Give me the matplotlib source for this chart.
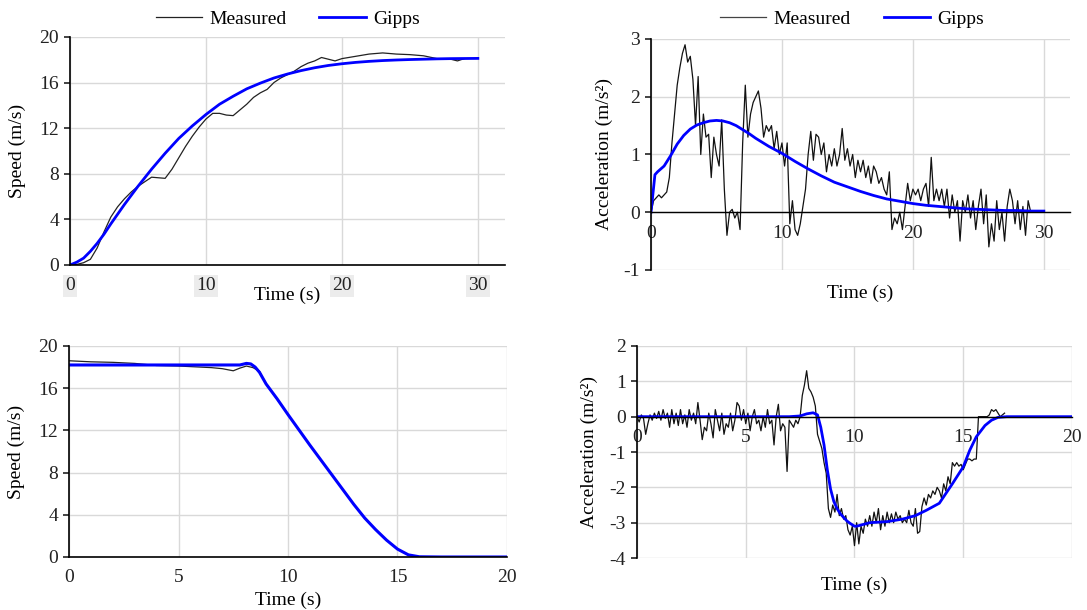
import numpy as np
import matplotlib
matplotlib.use('Agg')
import matplotlib.pyplot as plt

plt.rcParams['font.family'] = ['Liberation Serif', 'DejaVu Serif']
plt.rcParams['axes.unicode_minus'] = False
fs = 14

# ---- acceleration run: speed (top left) ----
spd_t_meas = [0, 0.5, 1, 1.5, 2, 2.5, 3, 3.5, 4, 4.5, 5, 5.5, 6, 6.5, 7, 7.5, 8, 8.5,
              9, 9.5, 10, 10.5, 11, 11.5, 12, 12.5, 13, 13.5, 14, 14.5, 15, 15.5, 16,
              16.5, 17, 17.5, 18, 18.5, 19, 19.5, 20, 21, 22, 23, 24, 25, 26, 27, 28,
              28.5, 29]
spd_meas = [0, 0.05, 0.2, 0.5, 1.5, 2.9, 4.2, 5.1, 5.8, 6.4, 6.9, 7.3, 7.7, 7.65, 7.6,
            8.4, 9.4, 10.4, 11.3, 12.1, 12.8, 13.3, 13.3, 13.15, 13.1, 13.6, 14.1, 14.7,
            15.1, 15.4, 16.0, 16.4, 16.7, 17.0, 17.4, 17.7, 17.9, 18.2, 18.05, 17.9, 18.1,
            18.3, 18.5, 18.6, 18.5, 18.45, 18.35, 18.1, 18.05, 17.9, 18.1]
spd_t_gipps = [0, 0.5, 1, 1.5, 2, 2.5, 3, 3.5, 4, 4.5, 5, 5.5, 6, 6.5, 7, 7.5, 8, 8.5,
               9, 9.5, 10, 11, 12, 13, 14, 15, 16, 17, 18, 19, 20, 21, 22, 23, 24, 25,
               26, 27, 28, 29, 30]
spd_gipps = [0, 0.25, 0.6, 1.2, 1.9, 2.7, 3.6, 4.45, 5.3, 6.1, 6.9, 7.65, 8.4, 9.1, 9.8,
             10.45, 11.1, 11.65, 12.2, 12.7, 13.2, 14.1, 14.8, 15.45, 15.95, 16.4, 16.75,
             17.05, 17.3, 17.5, 17.65, 17.77, 17.86, 17.93, 17.98, 18.02, 18.05, 18.08,
             18.1, 18.11, 18.12]

# ---- acceleration run: acceleration (top right), measured every 0.2 s ----
acc_t_meas = np.round(np.arange(0, 29.01, 0.2), 1)
acc_meas = [
    0.0, 0.2, 0.25, 0.3, 0.25, 0.3, 0.35, 0.6, 1.2, 1.7,
    2.2, 2.5, 2.75, 2.9, 2.6, 2.7, 2.3, 1.5, 2.35, 1.0,
    1.7, 1.3, 1.35, 0.6, 1.3, 1.0, 0.8, 1.6, 0.4, -0.4,
    0.0, 0.05, -0.1, 0.0, -0.3, 1.2, 2.2, 1.3, 1.7, 1.9,
    2.0, 2.1, 1.8, 1.3, 1.5, 1.4, 1.5, 1.1, 1.4, 1.0,
    1.2, 0.8, 1.2, -0.2, 0.2, -0.3, -0.4, -0.2, 0.1, 0.4,
    1.0, 1.4, 0.9, 1.35, 1.3, 1.0, 1.2, 0.7, 1.0, 0.8,
    1.1, 0.8, 1.0, 1.45, 0.9, 1.1, 0.8, 1.0, 0.6, 0.9,
    0.7, 0.9, 0.6, 0.8, 0.5, 0.8, 0.7, 0.5, 0.6, 0.4,
    0.3, 0.7, -0.3, -0.1, -0.2, 0.0, -0.3, 0.1, 0.5, 0.2,
    0.4, 0.3, 0.4, 0.2, 0.4, 0.5, 0.1, 0.95, 0.2, 0.4,
    0.2, 0.4, 0.1, 0.4, -0.1, 0.3, 0.0, 0.2, -0.5, 0.2,
    0.0, 0.3, -0.1, 0.2, -0.3, 0.1, 0.4, -0.2, 0.3, -0.6,
    -0.2, -0.5, 0.2, -0.3, 0.0, -0.5, 0.1, 0.4, 0.2, -0.2,
    0.2, -0.3, 0.1, -0.4, 0.2, 0.0]
acc_t_gipps = [0, 0.3, 0.5, 1, 1.5, 2, 2.5, 3, 3.5, 4, 4.5, 5, 5.5, 6, 6.5, 7, 7.5, 8,
               8.5, 9, 9.5, 10, 11, 12, 13, 14, 15, 16, 17, 18, 19, 20, 21, 22, 23, 24,
               25, 26, 27, 28, 29, 30]
acc_gipps = [0, 0.65, 0.7, 0.8, 0.98, 1.18, 1.33, 1.44, 1.51, 1.55, 1.58, 1.59, 1.58,
             1.55, 1.5, 1.43, 1.36, 1.28, 1.21, 1.14, 1.08, 1.02, 0.88, 0.75, 0.63, 0.52,
             0.44, 0.36, 0.29, 0.23, 0.19, 0.15, 0.12, 0.1, 0.08, 0.06, 0.05, 0.04, 0.03,
             0.03, 0.02, 0.02]

# ---- deceleration run: speed (bottom left) ----
dspd_t_meas = [0, 1, 2, 3, 4, 5, 6, 6.5, 7, 7.5, 7.8, 8.1, 8.4, 8.7, 9, 10, 11, 12, 13,
               13.5, 14, 14.5, 15, 15.5, 16, 17]
dspd_meas = [18.6, 18.5, 18.45, 18.35, 18.15, 18.1, 18.0, 17.95, 17.85, 17.65, 17.9,
             18.1, 17.95, 17.6, 16.4, 13.5, 10.6, 7.8, 5.0, 3.7, 2.6, 1.6, 0.75, 0.2,
             0.02, 0.0]
dspd_t_gipps = [0, 7.8, 8.1, 8.3, 8.5, 8.7, 9, 9.5, 10, 11, 12, 13, 13.5, 14, 14.5, 15,
                15.5, 16, 17, 20]
dspd_gipps = [18.2, 18.2, 18.35, 18.3, 18.0, 17.5, 16.4, 15.0, 13.5, 10.6, 7.8, 5.0,
              3.7, 2.6, 1.6, 0.75, 0.2, 0.02, 0.0, 0.0]

# ---- deceleration run: acceleration (bottom right), measured every 0.1 s ----
dacc_t_meas = np.round(np.arange(0, 16.91, 0.1), 1)
dacc_meas = [
    0.0, -0.15, 0.05, -0.05, -0.5, -0.2, 0.05, -0.1, 0.1, -0.05,
    0.15, -0.1, 0.2, -0.05, 0.1, -0.3, 0.2, -0.2, 0.1, -0.25,
    0.2, -0.2, 0.05, -0.3, 0.2, -0.1, 0.1, -0.2, 0.4, -0.1,
    -0.65, -0.3, -0.4, 0.1, -0.2, -0.6, 0.2, -0.1, -0.4, 0.1,
    -0.5, -0.2, -0.3, 0.1, -0.4, -0.1, 0.4, 0.3, -0.1, 0.2,
    -0.2, 0.1, -0.4, 0.0, 0.2, -0.2, -0.1, -0.4, 0.0, -0.3,
    0.2, -0.2, -0.1, -0.8, 0.0, 0.35, -0.4, -0.2, -0.3, -1.55,
    -0.1, -0.2, -0.3, -0.1, -0.2, 0.0, 0.6, 0.9, 1.3, 0.8,
    0.7, 0.55, 0.3, -0.5, -0.7, -0.9, -1.3, -1.6, -2.6, -2.85,
    -2.5, -2.7, -2.2, -2.8, -2.6, -2.9, -2.8, -3.2, -3.35, -3.1,
    -3.65, -3.0, -3.6, -3.1, -3.3, -2.9, -3.1, -2.8, -3.1, -2.7,
    -3.0, -2.6, -3.2, -2.8, -3.1, -2.7, -3.0, -2.75, -3.0, -2.7,
    -2.9, -2.8, -3.0, -2.9, -3.0, -2.65, -3.0, -3.1, -2.6, -3.3,
    -3.25, -2.55, -2.3, -2.5, -2.2, -2.3, -2.1, -2.2, -2.0, -2.1,
    -2.3, -1.9, -2.1, -1.7, -1.9, -1.3, -1.4, -1.3, -1.4, -1.35,
    -1.5, -1.35, -1.2, -1.2, -1.25, -1.2, -1.2, 0.0, 0.0, 0.0,
    0.0, 0.0, 0.05, 0.2, 0.15, 0.2, 0.1, 0.0, 0.05, 0.1]
dacc_t_gipps = [0, 7.0, 7.5, 7.8, 8.1, 8.3, 8.45, 8.6, 8.75, 8.9, 9.05, 9.2, 9.35, 9.5,
                9.65, 9.8, 10.0, 10.1, 10.4, 10.7, 11.5, 12.2, 12.8, 13.3, 13.9, 14.5,
                15.0, 15.3, 15.6, 16.0, 16.3, 16.6, 17.0, 20]
dacc_gipps = [0, 0, 0.02, 0.08, 0.11, 0.05, -0.3, -0.8, -1.5, -2.05, -2.4, -2.6, -2.75,
              -2.85, -2.95, -3.02, -3.1, -3.1, -3.05, -3.0, -2.97, -2.9, -2.8, -2.65,
              -2.45, -1.9, -1.42, -0.95, -0.57, -0.25, -0.1, -0.02, 0.0, 0.0]

blue = '#0000ff'
grid_c = '#d9d9d9'


def style(ax, xticks, yticks, xlim, ylim, label_bg):
    ax.set_xlim(*xlim)
    ax.set_ylim(*ylim)
    ax.set_xticks(xticks)
    ax.set_yticks(yticks)
    for s in ['top', 'right']:
        ax.spines[s].set_visible(False)
    for s in ['left', 'bottom']:
        ax.spines[s].set_linewidth(1.2)
        ax.spines[s].set_color('black')
    ax.grid(True, color=grid_c, lw=1.0)
    ax.set_axisbelow(True)
    ax.tick_params(axis='y', direction='out', length=4, width=1.2, pad=4,
                   labelsize=fs, colors='#222222')
    ax.tick_params(axis='x', length=0, pad=9, labelsize=fs, colors='#222222')
    for tk in ax.xaxis.get_major_ticks():
        tk.label1.set_bbox(dict(facecolor=label_bg, edgecolor='none', pad=1.5))


fig = plt.figure(figsize=(10.87, 6.10), dpi=100)

# top left
ax1 = fig.add_axes([0.0644, 0.5656, 0.4002, 0.3738])
ax1.plot(spd_t_meas, spd_meas, color='#222222', lw=0.9, label='Measured')
ax1.plot(spd_t_gipps, spd_gipps, color=blue, lw=2, label='Gipps')
style(ax1, [0, 10, 20, 30], [0, 4, 8, 12, 16, 20], (0, 32), (0, 20), '#ececec')
ax1.set_xlabel('Time (s)', fontsize=fs)
ax1.set_ylabel('Speed (m/s)', fontsize=fs)
ax1.xaxis.set_label_coords(0.5, -0.0965)
ax1.yaxis.set_label_coords(-0.101, 0.5)
ax1.legend(loc='center', bbox_to_anchor=(0.5, 1.079), ncol=2, frameon=False,
           fontsize=fs, handlelength=2.4, handletextpad=0.35, columnspacing=1.7,
           borderaxespad=0, borderpad=0)

# top right
ax2 = fig.add_axes([0.5989, 0.5574, 0.3855, 0.3787])
ax2.plot(acc_t_meas, acc_meas, color='#111111', lw=0.9, label='Measured')
ax2.plot(acc_t_gipps, acc_gipps, color=blue, lw=2, label='Gipps')
style(ax2, [0, 10, 20, 30], [-1, 0, 1, 2, 3], (0, 32), (-1, 3), 'white')
ax2.spines['bottom'].set_position(('data', 0))
ax2.spines['bottom'].set_linewidth(1.0)
ax2.set_xlabel('Time (s)', fontsize=fs)
ax2.set_ylabel('Acceleration (m/s²)', fontsize=fs)
ax2.xaxis.set_label_coords(0.5, -0.065)
ax2.yaxis.set_label_coords(-0.0907, 0.5)
leg2 = ax2.legend(loc='center', bbox_to_anchor=(0.479, 1.0866), ncol=2, frameon=False,
                  fontsize=fs, handlelength=2.4, handletextpad=0.35, columnspacing=1.7,
                  borderaxespad=0, borderpad=0)
leg2.get_lines()[0].set_color('#444444')

# bottom left
ax3 = fig.add_axes([0.0635, 0.0869, 0.4029, 0.3459])
ax3.plot(dspd_t_meas, dspd_meas, color='#222222', lw=0.9)
ax3.plot(dspd_t_gipps, dspd_gipps, color=blue, lw=2.2)
style(ax3, [0, 5, 10, 15, 20], [0, 4, 8, 12, 16, 20], (0, 20), (0, 20), 'none')
ax3.set_xlabel('Time (s)', fontsize=fs)
ax3.set_ylabel('Speed (m/s)', fontsize=fs)
ax3.xaxis.set_label_coords(0.5, -0.166)
ax3.yaxis.set_label_coords(-0.1005, 0.5)

# bottom right
ax4 = fig.add_axes([0.586, 0.0852, 0.4002, 0.3476])
ax4.plot(dacc_t_meas, dacc_meas, color='#111111', lw=0.9)
ax4.plot(dacc_t_gipps, dacc_gipps, color=blue, lw=2)
style(ax4, [0, 5, 10, 15, 20], [-4, -3, -2, -1, 0, 1, 2], (0, 20), (-4, 2), 'white')
ax4.spines['bottom'].set_position(('data', 0))
ax4.spines['bottom'].set_linewidth(1.0)
ax4.set_xlabel('Time (s)', fontsize=fs)
ax4.set_ylabel('Acceleration (m/s²)', fontsize=fs)
ax4.xaxis.set_label_coords(0.5, -0.0896)
ax4.yaxis.set_label_coords(-0.0897, 0.5)

fig.savefig('out.png', dpi=100)
